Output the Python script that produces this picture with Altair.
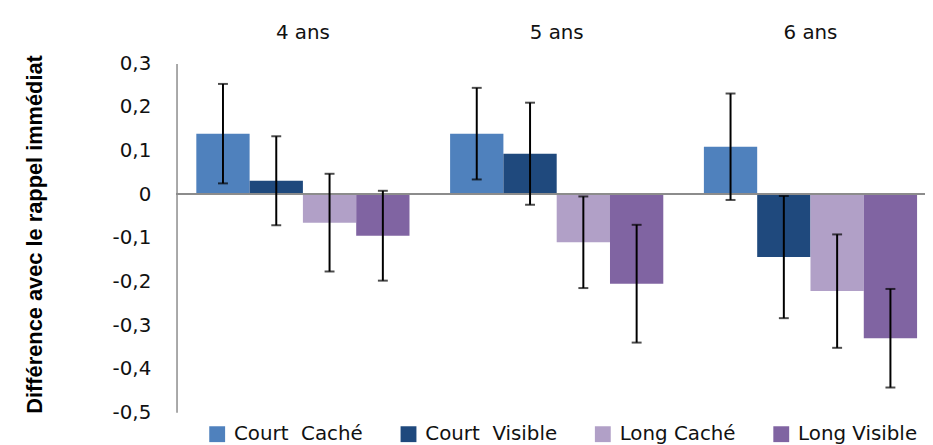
import altair as alt
import pandas as pd

ages = ["4 ans", "5 ans", "6 ans"]
series = ["Court\u00a0 Caché", "Court\u00a0 Visible", "Long Caché", "Long Visible"]
colors = ["#4F81BD", "#1F497D", "#B1A0C7", "#8064A2"]

# mean difference per age group, in series order
means_4 = [0.139, 0.031, -0.065, -0.095]
means_5 = [0.139, 0.093, -0.110, -0.205]
means_6 = [0.109, -0.144, -0.222, -0.330]
# error-bar half widths
err_4 = [0.114, 0.102, 0.112, 0.103]
err_5 = [0.105, 0.117, 0.105, 0.135]
err_6 = [0.122, 0.140, 0.130, 0.113]

y_ticks = [-0.5, -0.4, -0.3, -0.2, -0.1, 0, 0.1, 0.2, 0.3]

rows = []
for age, ms, es in zip(ages, [means_4, means_5, means_6], [err_4, err_5, err_6]):
    for s, m, e in zip(series, ms, es):
        rows.append({"age": age, "serie": s, "mean": m, "lower": m - e, "upper": m + e})
df = pd.DataFrame(rows)

FONT = "DejaVu Sans"

xscale = alt.Scale(domain=ages, paddingInner=0.16, paddingOuter=0.0546, align=0.714)
xoff = alt.XOffset("serie:N", sort=series, scale=alt.Scale(domain=series, paddingInner=0, paddingOuter=0))
yscale = alt.Scale(domain=[-0.5, 0.3], nice=False, zero=False)

xaxis = alt.Axis(orient="top", title=None, domain=False, ticks=False, tickSize=0,
                 labelAngle=0, labelPadding=21, labelFont=FONT, labelFontSize=20,
                 labelColor="#111")
yaxis = alt.Axis(values=y_ticks, grid=False, ticks=False, domain=True,
                 domainColor="#8c8c8c", domainWidth=1.5,
                 labelExpr="datum.value == 0 ? '0' : replace(toString(round(datum.value*10)/10), '.', ',')",
                 labelFont=FONT, labelFontSize=20, labelColor="#111", labelPadding=26,
                 title="Différence avec le rappel immédiat",
                 titleFont="Liberation Sans", titleFontSize=22, titleFontWeight="bold",
                 titleColor="#000", titleX=-143, titleY=172, titleAngle=270,
                 titleAlign="center", titleBaseline="middle")

x_enc = alt.X("age:N", sort=ages, scale=xscale, axis=xaxis)

base = alt.Chart(df)

bars = base.mark_bar().encode(
    x=x_enc,
    xOffset=xoff,
    y=alt.Y("mean:Q", scale=yscale, axis=yaxis),
    color=alt.Color("serie:N", sort=series, scale=alt.Scale(domain=series, range=colors),
                    legend=alt.Legend(orient="none", legendX=31, legendY=364, direction="horizontal",
                                      title=None, symbolType="square", symbolSize=256,
                                      symbolStrokeWidth=0, labelFont=FONT, labelFontSize=20,
                                      labelColor="#111", columnPadding=36, labelOffset=7, padding=0)),
)

zero = base.mark_rule(color="#8c8c8c", strokeWidth=1.5).encode(
    y=alt.datum(0, scale=yscale, axis=yaxis))

err = base.mark_rule(color="#000", strokeWidth=2).encode(
    x=x_enc,
    xOffset=xoff,
    y=alt.Y("lower:Q", scale=yscale, axis=yaxis),
    y2="upper:Q",
)
cap_lo = base.mark_tick(color="#000", size=10, thickness=2).encode(
    x=x_enc,
    xOffset=xoff,
    y=alt.Y("lower:Q", scale=yscale, axis=yaxis),
)
cap_hi = base.mark_tick(color="#000", size=10, thickness=2).encode(
    x=x_enc,
    xOffset=xoff,
    y=alt.Y("upper:Q", scale=yscale, axis=yaxis),
)

chart = alt.layer(bars, zero, err, cap_lo, cap_hi).properties(
    width=755, height=352,
    autosize=alt.AutoSizeParams(type="none"),
    padding={"left": 170, "top": 54, "right": 0, "bottom": 31},
    background="white",
).configure_view(stroke=None)

chart.save("out.html", embed_options={"renderer": "svg", "actions": False})
